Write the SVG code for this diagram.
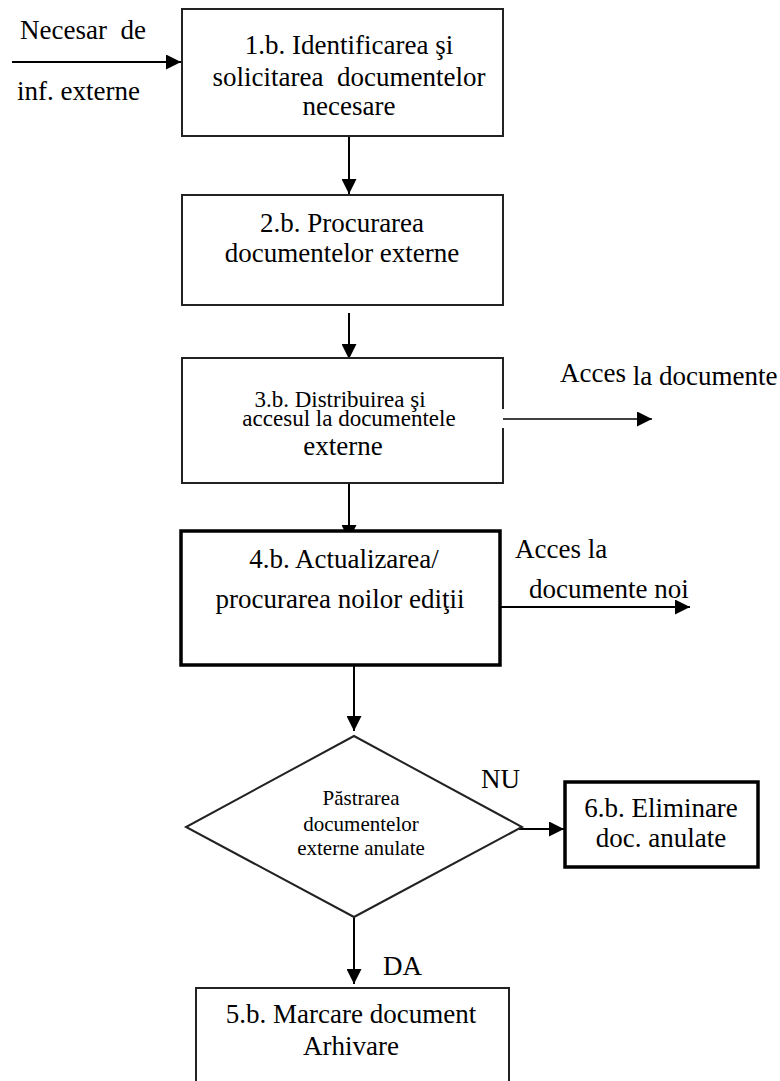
<svg xmlns="http://www.w3.org/2000/svg" width="780" height="1081" viewBox="0 0 780 1081">
<defs>
<marker id="ah" viewBox="0 0 15 15" refX="15" refY="7.5" markerWidth="15" markerHeight="15" markerUnits="userSpaceOnUse" orient="auto">
<path d="M0,0 L15,7.5 L0,15 z" fill="#000"/>
</marker>
</defs>
<style>
text{fill:#000;white-space:pre;}
.t27{font-size:27px;}
.t23{font-size:23px;}
.t21{font-size:21px;}
.mid{text-anchor:middle;}
.thin{fill:#fff;stroke:#222;stroke-width:2;}
.thick{fill:#fff;stroke:#000;stroke-width:3.5;}
.con{fill:none;stroke:#000;stroke-width:2;}
.con1{fill:none;stroke:#000;stroke-width:1.3;}
</style>
<rect width="780" height="1081" fill="#fff"/>

<g id="connectors">
<line class="con" x1="12" y1="62" x2="181" y2="62" marker-end="url(#ah)"/>
<line class="con" x1="349" y1="136" x2="349" y2="194" marker-end="url(#ah)"/>
<line class="con" x1="349" y1="313" x2="349" y2="359" marker-end="url(#ah)"/>
<line class="con1" x1="462" y1="419" x2="652" y2="419" marker-end="url(#ah)"/>
<line class="con" x1="349" y1="483" x2="349" y2="540" marker-end="url(#ah)"/>
<line class="con" x1="500" y1="607" x2="690" y2="607" marker-end="url(#ah)"/>
<line class="con" x1="354" y1="665" x2="354" y2="731" marker-end="url(#ah)"/>
<line class="con" x1="519" y1="829" x2="564" y2="829" marker-end="url(#ah)"/>
<line class="con" x1="354" y1="917" x2="354" y2="984" marker-end="url(#ah)"/>
</g>

<g font-family="'Liberation Serif', 'Times New Roman', 'DejaVu Serif', serif">
<g id="input-label">
<text class="t27" x="20" y="39" xml:space="preserve">Necesar  de</text>
<text class="t27" x="17" y="100">inf. externe</text>
</g>

<g id="node1">
<rect class="thin" x="182" y="9" width="321" height="127"/>
<text class="t27 mid" x="349" y="54">1.b. Identificarea şi</text>
<text class="t27 mid" x="349" y="86" xml:space="preserve">solicitarea  documentelor</text>
<text class="t27 mid" x="349" y="115">necesare</text>
</g>

<g id="node2">
<rect class="thin" x="182" y="195" width="321" height="110"/>
<text class="t27 mid" x="342" y="232">2.b. Procurarea</text>
<text class="t27 mid" x="342" y="262">documentelor externe</text>
</g>

<g id="node3">
<path class="thin" d="M503,409 L503,358 L182,358 L182,483 L503,483 L503,428"/>
<text class="t23 mid" x="340" y="407">3.b. Distribuirea şi</text>
<text class="t23 mid" x="349" y="426">accesul la documentele</text>
<text class="t27 mid" x="343" y="455">externe</text>
</g>

<g id="label-acces1">
<text class="t27" x="560" y="382">Acces <tspan y="385">la documente</tspan></text>
</g>

<g id="node4">
<rect class="thick" x="181" y="531" width="319" height="134"/>
<text class="t27 mid" x="344" y="568">4.b. Actualizarea/</text>
<text class="t27 mid" x="340" y="608">procurarea noilor ediţii</text>
</g>

<g id="label-acces2">
<text class="t27" x="515" y="558">Acces la</text>
<text class="t27" x="529" y="598">documente noi</text>
</g>

<g id="decision">
<polygon class="thin" points="354,736 522,827 354,917 186,827"/>
<text class="t21 mid" x="361" y="805">Păstrarea</text>
<text class="t21 mid" x="361" y="831">documentelor</text>
<text class="t21 mid" x="361" y="855">externe anulate</text>
</g>

<g id="label-nu"><text class="t27" x="481" y="788">NU</text></g>
<g id="label-da"><text class="t27" x="383" y="975">DA</text></g>

<g id="node6">
<rect class="thick" x="565" y="782" width="193" height="85"/>
<text class="t27 mid" x="661" y="817">6.b. Eliminare</text>
<text class="t27 mid" x="661" y="847">doc. anulate</text>
</g>

<g id="node5">
<path class="thin" d="M196,1085 L196,988 L509,988 L509,1085"/>
<text class="t27 mid" x="351" y="1023">5.b. Marcare document</text>
<text class="t27 mid" x="351" y="1055">Arhivare</text>
</g>
</g>
</svg>
